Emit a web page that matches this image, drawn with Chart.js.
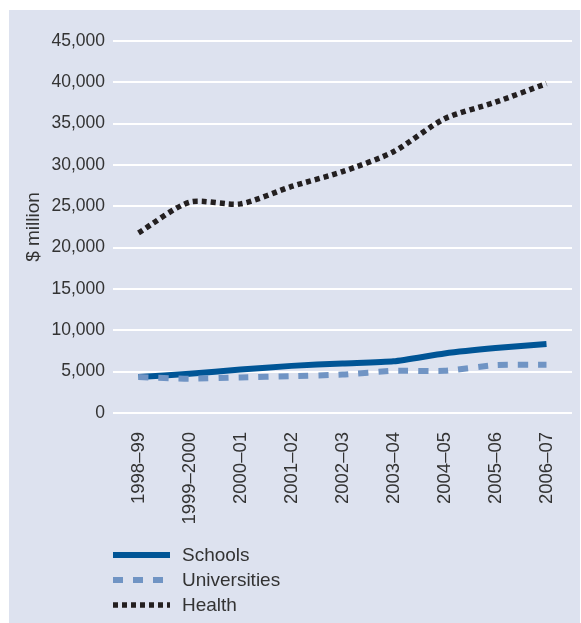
<!DOCTYPE html>
<html>
<head>
<meta charset="utf-8">
<script src="https://cdn.jsdelivr.net/npm/chart.js@4.4.1/dist/chart.umd.min.js"></script>
<style>
  html, body { margin: 0; padding: 0; background: #fff; }
  #panel {
    position: absolute; left: 9px; top: 10px;
    width: 571px; height: 613px;
    background: #dde2ef;
  }
  canvas { display: block; }
</style>
</head>
<body>
<div id="panel"><canvas id="spending" width="571" height="613"></canvas></div>
<script>
// Data
const categories = ["1998–99", "1999–2000", "2000–01", "2001–02", "2002–03", "2003–04", "2004–05", "2005–06", "2006–07"];
const schools = [4350, 4750, 5250, 5700, 6000, 6250, 7200, 7850, 8350];
const universities = [4350, 4150, 4300, 4450, 4650, 5100, 5100, 5800, 5850];
const health = [21800, 25500, 25300, 27400, 29200, 31600, 35600, 37600, 39850];
const yTicks = [0, 5000, 10000, 15000, 20000, 25000, 30000, 35000, 40000, 45000];

const fontFamily = '"Liberation Sans", Arial, Helvetica, sans-serif';
const textColor = "#333333";

// legend drawn as a stacked list under the axis labels
const stackedLegend = {
  id: "stackedLegend",
  afterDraw(chart) {
    const ctx = chart.ctx;
    ctx.save();
    ctx.font = "19px " + fontFamily;
    ctx.textBaseline = "middle";
    ctx.fillStyle = textColor;
    chart.data.datasets.forEach((ds, row) => {
      const y = 545 + row * 25;
      ctx.beginPath();
      ctx.strokeStyle = ds.borderColor;
      ctx.lineWidth = ds.borderWidth;
      ctx.setLineDash(ds.borderDash || []);
      ctx.moveTo(104, y);
      ctx.lineTo(161, y);
      ctx.stroke();
      ctx.setLineDash([]);
      ctx.fillText(ds.label, 173, y + 1);
    });
    ctx.restore();
  }
};

var spendingChart = new Chart(document.getElementById("spending"), {
  type: "line",
  data: {
    labels: categories,
    datasets: [
      {
        label: "Schools",
        data: schools,
        borderColor: "#005596",
        borderWidth: 6,
        pointRadius: 0,
        tension: 0.2,
        order: 3
      },
      {
        label: "Universities",
        data: universities,
        borderColor: "#7094c4",
        borderWidth: 6,
        borderDash: [10, 10],
        pointRadius: 0,
        tension: 0.2,
        order: 2
      },
      {
        label: "Health",
        data: health,
        borderColor: "#231f20",
        borderWidth: 5.5,
        borderDash: [5, 4],
        pointRadius: 0,
        tension: 0.25,
        order: 1
      }
    ]
  },
  options: {
    responsive: false,
    animation: false,
    layout: { padding: { left: 0, right: 8, top: 31, bottom: 0 } },
    plugins: {
      legend: { display: false },
      tooltip: { enabled: false }
    },
    scales: {
      x: {
        offset: true,
        grid: { display: false, drawTicks: false },
        border: { display: false },
        ticks: {
          minRotation: 90,
          maxRotation: 90,
          padding: 19,
          color: textColor,
          font: { family: fontFamily, size: 18.5 }
        },
        afterFit(scale) {
          scale.height = 210;
          scale.paddingLeft = 0;
          scale.paddingRight = 0;
        }
      },
      y: {
        min: 0,
        max: 45000,
        afterBuildTicks(scale) { scale.ticks = yTicks.map(v => ({ value: v })); },
        grid: { color: "#ffffff", lineWidth: 2, drawTicks: false },
        border: { display: false },
        ticks: {
          padding: 8,
          color: textColor,
          font: { family: fontFamily, size: 17.5 },
          callback: (v) => v.toLocaleString("en-US")
        },
        title: {
          display: true,
          text: "$ million",
          color: textColor,
          font: { family: fontFamily, size: 19 },
          padding: { top: 13, bottom: 0 }
        },
        afterFit(scale) { scale.width = 104; }
      }
    }
  },
  plugins: [stackedLegend]
});
</script>
</body>
</html>
